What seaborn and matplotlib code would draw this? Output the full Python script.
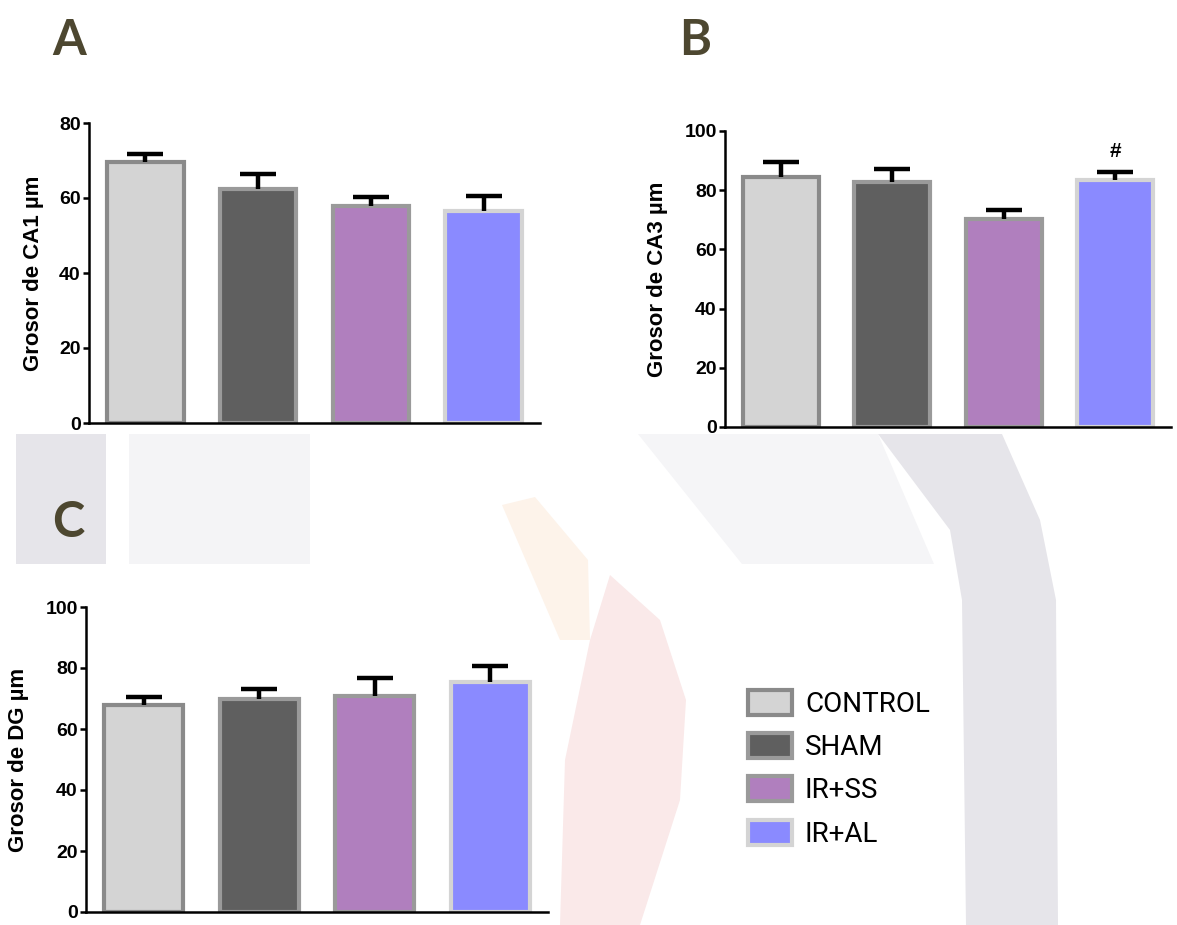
import matplotlib.pyplot as plt
import seaborn as sns
import pandas as pd
import numpy as np
from matplotlib.patches import Patch, Polygon

# Dados (média e erro padrão, em µm)
grupos = ["CONTROL", "SHAM", "IR+SS", "IR+AL"]
ca1_media = [69.5, 62.5, 57.8, 56.5]
ca1_erro = [2.3, 4.0, 2.6, 4.0]
ca3_media = [84.6, 82.8, 70.3, 83.3]
ca3_erro = [5.0, 4.4, 3.0, 2.9]
dg_media = [67.8, 69.8, 70.7, 75.5]
dg_erro = [2.8, 3.4, 5.9, 5.2]

cores = ["#d4d4d4", "#5f5f5f", "#b07fbe", "#8a8aff"]
bordas = ["#8a8a8a", "#9a9a9a", "#9a9a9a", "#d4d4d4"]

sns.set_style("white")
plt.rcParams["font.family"] = ["Liberation Sans", "DejaVu Sans"]
plt.rcParams["text.color"] = "black"
plt.rcParams["axes.labelcolor"] = "black"
plt.rcParams["ytick.color"] = "black"

W, H = 1177, 925
fig = plt.figure(figsize=(W / 100, H / 100), dpi=100)
fig.patch.set_facecolor("white")


def px(x, y):
    return (x / W, 1 - y / H)


def caixa(esq, topo, dir, base):
    return [esq / W, 1 - base / H, (dir - esq) / W, (base - topo) / H]


# marca d'água ao fundo (apenas decorativa)
fundo = [
    ([(16, 434), (106, 434), (106, 564), (16, 564)], "#e6e5ea"),
    ([(129, 434), (310, 434), (310, 564), (129, 564)], "#f4f4f6"),
    ([(638, 434), (878, 434), (934, 564), (742, 564)], "#f5f5f7"),
    ([(878, 434), (1002, 434), (1040, 520), (1056, 600), (1058, 925),
      (966, 925), (962, 600), (950, 530)], "#e6e5ea"),
    ([(502, 505), (535, 497), (588, 560), (590, 640), (560, 640)], "#fdf3ea"),
    ([(610, 575), (660, 620), (686, 700), (680, 800), (640, 925),
      (560, 925), (565, 760), (590, 640)], "#fae9e9"),
]
for pontos, cor in fundo:
    fig.patches.append(Polygon([px(*p) for p in pontos], closed=True,
                               transform=fig.transFigure, facecolor=cor,
                               edgecolor="none", zorder=0))


def painel(ax, medias, erros, ymax, rotulo, xlabel_pos):
    df = pd.DataFrame({"grupo": grupos, "valor": medias})
    sns.barplot(data=df, x="grupo", y="valor", hue="grupo", palette=cores,
                saturation=1, width=0.68, legend=False, ax=ax, zorder=2)
    for barra, borda in zip(ax.patches, bordas):
        barra.set_edgecolor(borda)
        barra.set_linewidth(3)
    # só a metade de cima da barra de erro
    _, caps, _ = ax.errorbar(np.arange(len(grupos)), medias,
                             yerr=[np.zeros(len(erros)), erros], fmt="none",
                             ecolor="black", elinewidth=3.2, capsize=13,
                             capthick=3.2, zorder=3)
    caps[0].remove()
    ax.set_xlim(-0.5, 3.5)
    ax.set_ylim(0, ymax)
    ax.set_yticks(np.arange(0, ymax + 1, 20))
    ax.set_xticks([])
    ax.set_xlabel("")
    ax.set_ylabel(rotulo, fontsize=16, fontweight="bold")
    ax.yaxis.label.set_verticalalignment("center")
    ax.yaxis.set_label_coords(xlabel_pos, 0.5)
    ax.tick_params(axis="y", direction="out", length=4, width=1.8, pad=2,
                   labelsize=14, left=True)
    for t in ax.get_yticklabels():
        t.set_fontweight("bold")
    sns.despine(ax=ax)
    for lado in ("left", "bottom"):
        ax.spines[lado].set_linewidth(1.8)
        ax.spines[lado].set_color("black")
    ax.set_facecolor("white")


ax_a = fig.add_axes(caixa(89, 123, 540, 423))
painel(ax_a, ca1_media, ca1_erro, 80, "Grosor de CA1 µm", -0.123)

ax_b = fig.add_axes(caixa(725, 131, 1171, 427))
painel(ax_b, ca3_media, ca3_erro, 100, "Grosor de CA3 µm", -0.151)
ax_b.text(3, ca3_media[3] + ca3_erro[3] + 7, "#", ha="center", va="center",
          fontsize=15, fontweight="bold")

ax_c = fig.add_axes(caixa(86, 607, 548, 912))
painel(ax_c, dg_media, dg_erro, 100, "Grosor de DG µm", -0.147)

# letras dos painéis
for letra, (x, y) in zip("ABC", [(52, 55), (679, 55), (52, 537)]):
    fig.text(*px(x, y), letra, fontsize=35, fontweight="bold",
             family=["Lato", "DejaVu Sans"], color="#4d4730",
             ha="left", va="baseline")

# legenda
alcas = [Patch(facecolor=c, edgecolor=b, linewidth=3, joinstyle="round")
         for c, b in zip(cores, bordas)]
fig.legend(alcas, grupos, loc="upper left", bbox_to_anchor=px(748, 690),
           frameon=False, borderpad=0, borderaxespad=0,
           handlelength=1.6, handleheight=1.0, handletextpad=0.45,
           labelspacing=0.55, prop={"family": ["Roboto", "DejaVu Sans"],
                                    "size": 20})

fig.savefig("out.png", dpi=100)
